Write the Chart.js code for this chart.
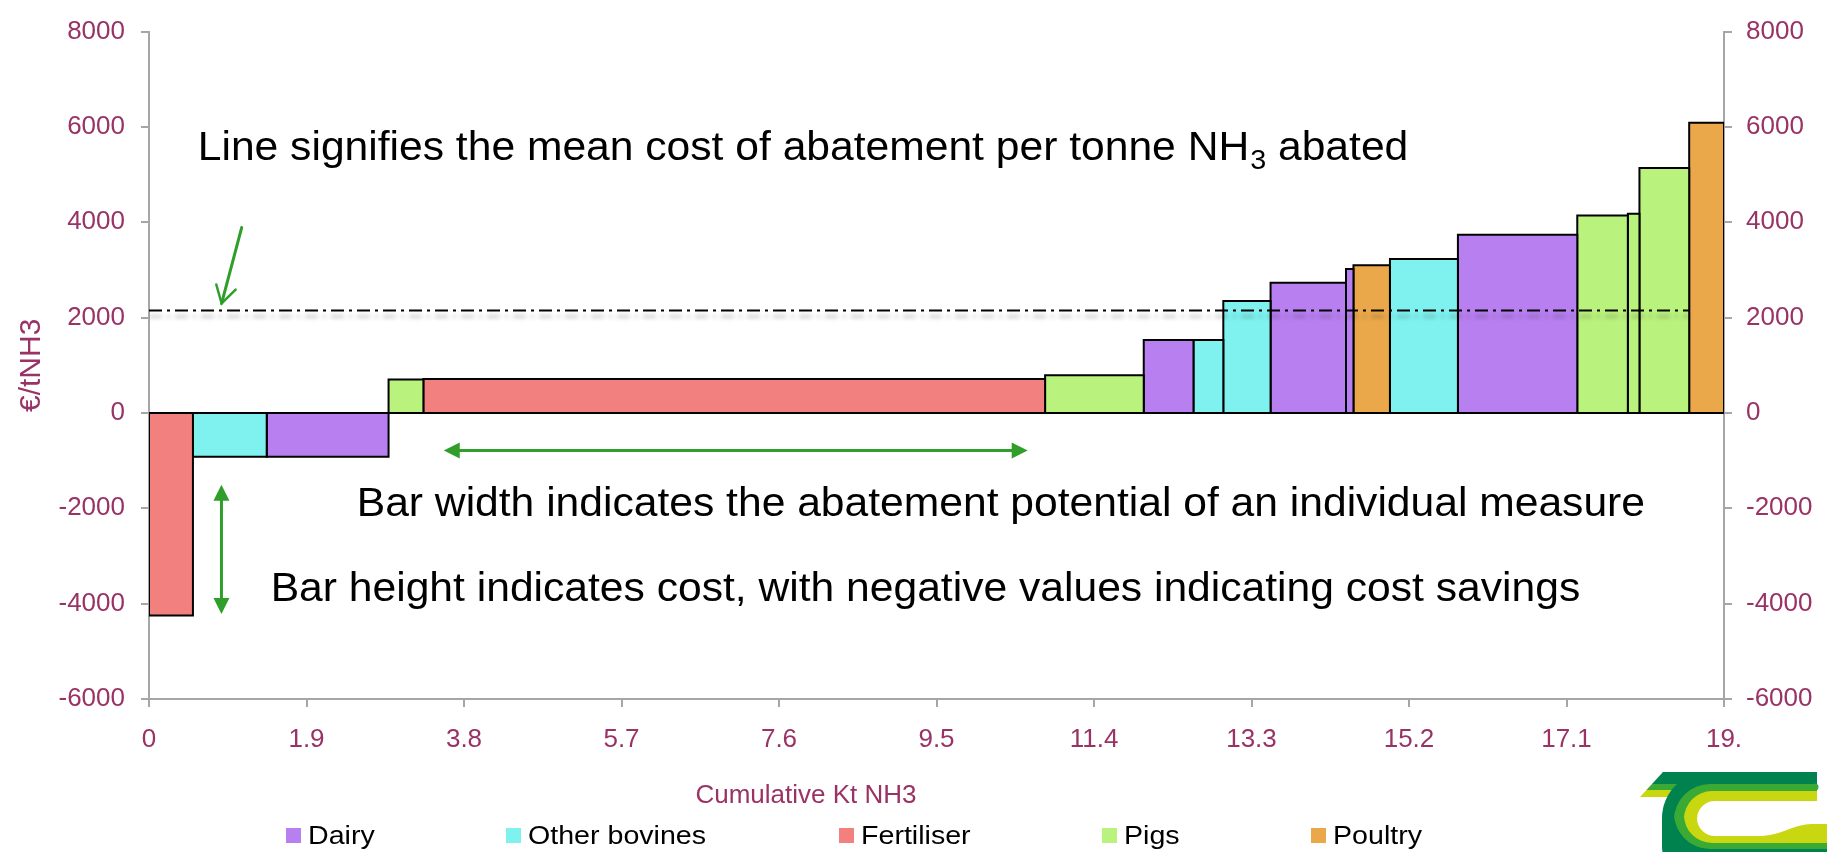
<!DOCTYPE html>
<html>
<head>
<meta charset="utf-8">
<title>Ammonia abatement cost curve</title>
<script src="https://cdn.jsdelivr.net/npm/chart.js@4/dist/chart.umd.min.js"></script>
<style>
  html, body { margin: 0; padding: 0; background: #ffffff; }
  #wrap { width: 1827px; height: 852px; position: relative; }
</style>
</head>
<body>
<div id="wrap"><canvas id="macc" width="1827" height="852"></canvas></div>
<script>
// Sector groups and their fill colours
const categories = ['Dairy', 'Other bovines', 'Fertiliser', 'Pigs', 'Poultry'];
const categoryColors = ['#B87FF0', '#7FF2F0', '#F2807E', '#BAF27E', '#EBA84A'];

// Abatement measures, ordered by cost
const measureCategory = ['Fertiliser', 'Other bovines', 'Dairy', 'Pigs', 'Fertiliser', 'Pigs',
  'Dairy', 'Other bovines', 'Other bovines', 'Dairy', 'Dairy', 'Poultry',
  'Other bovines', 'Dairy', 'Pigs', 'Pigs', 'Pigs', 'Poultry'];
// Abatement potential of each measure (Kt NH3) = bar width
const measurePotential = [0.53, 0.89, 1.47, 0.42, 7.50, 1.19,
  0.60, 0.36, 0.57, 0.91, 0.09, 0.44,
  0.82, 1.44, 0.61, 0.14, 0.60, 0.42];
// Cost of each measure (€/t NH3) = bar height
const measureCost = [-4250, -920, -920, 700, 710, 790,
  1530, 1530, 2350, 2730, 3020, 3100,
  3230, 3740, 4140, 4180, 5140, 6090];

// Mean cost of abatement per tonne NH3
const meanCost = 2150;
const meanSpan = [0, 18.58];

// Axis ticks
const xTickValues = [0, 1.9, 3.8, 5.7, 7.6, 9.5, 11.4, 13.3, 15.2, 17.1, 19];
const xTickLabels = ['0', '1.9', '3.8', '5.7', '7.6', '9.5', '11.4', '13.3', '15.2', '17.1', '19.'];
const yTickValues = [-6000, -4000, -2000, 0, 2000, 4000, 6000, 8000];

const FONT = '"Liberation Sans", Arial, sans-serif';
const PLUM = '#993366';
const AXIS = '#A6A6A6';
const GREEN = '#2F9E2A';

// Each measure becomes a rectangle from its cumulative start to start + potential
const datasets = [];
let cumulative = 0;
measureCost.forEach((cost, i) => {
  const x0 = cumulative;
  const x1 = cumulative + measurePotential[i];
  const color = categoryColors[categories.indexOf(measureCategory[i])];
  datasets.push({
    label: measureCategory[i],
    data: [{x: x0, y: 0}, {x: x0, y: cost}, {x: x1, y: cost}, {x: x1, y: 0}],
    backgroundColor: color,
    borderColor: '#000000',
    borderWidth: 2,
    borderJoinStyle: 'miter',
    fill: 'origin',
    pointRadius: 0,
    tension: 0,
    order: 2
  });
  cumulative = x1;
});
const totalPotential = cumulative;

// Common base edge of all bars
datasets.push({
  label: 'Base',
  data: [{x: 0, y: 0}, {x: totalPotential, y: 0}],
  borderColor: '#000000',
  borderWidth: 2,
  fill: false,
  pointRadius: 0,
  order: 1
});

datasets.push({
  label: 'Mean cost',
  data: meanSpan.map(x => ({x: x, y: meanCost})),
  borderColor: '#000000',
  borderWidth: 2,
  borderDash: [13, 5, 3, 5],
  fill: false,
  pointRadius: 0,
  order: 0,
  meanLine: true
});

function yTicks(scale) { scale.ticks = yTickValues.map(v => ({value: v})); }

// Soft drop shadow under the mean-cost line
const shadowPlugin = {
  id: 'meanShadow',
  beforeDatasetDraw(chart, args) {
    if (!args.meta._dataset.meanLine) return;
    const ctx = chart.ctx;
    ctx.save();
    ctx.shadowColor = 'rgba(0,0,0,0.3)';
    ctx.shadowBlur = 4;
    ctx.shadowOffsetX = 0;
    ctx.shadowOffsetY = 6;
  },
  afterDatasetDraw(chart, args) {
    if (!args.meta._dataset.meanLine) return;
    chart.ctx.restore();
  }
};

function arrowHead(ctx, fx, fy, tx, ty, len, half, filled) {
  const a = Math.atan2(ty - fy, tx - fx);
  const bx = tx - len * Math.cos(a), by = ty - len * Math.sin(a);
  const px = -Math.sin(a) * half, py = Math.cos(a) * half;
  ctx.beginPath();
  ctx.moveTo(bx + px, by + py);
  ctx.lineTo(tx, ty);
  ctx.lineTo(bx - px, by - py);
  if (filled) { ctx.closePath(); ctx.fill(); } else { ctx.stroke(); }
}

function roundRect(ctx, x, y, w, h, r) {
  ctx.beginPath();
  ctx.moveTo(x + r, y);
  ctx.lineTo(x + w, y);
  ctx.lineTo(x + w, y + h);
  ctx.lineTo(x + r, y + h);
  ctx.arcTo(x, y + h, x, y + h - r, r);
  ctx.lineTo(x, y + r);
  ctx.arcTo(x, y, x + r, y, r);
  ctx.closePath();
  ctx.fill();
}

function drawLogo(ctx) {
  const dark = '#00824F', mid = '#3AAA35', lime = '#C8D70F';
  ctx.save();
  // slanted stripes on the left
  ctx.beginPath();
  ctx.moveTo(1663, 772); ctx.lineTo(1710, 772); ctx.lineTo(1710, 797); ctx.lineTo(1640, 797);
  ctx.closePath();
  ctx.clip();
  ctx.fillStyle = dark; ctx.fillRect(1630, 772, 90, 12);
  ctx.fillStyle = mid; ctx.fillRect(1630, 784, 90, 6);
  ctx.fillStyle = lime; ctx.fillRect(1630, 790, 90, 7);
  ctx.restore();
  ctx.save();
  ctx.fillStyle = dark; roundRect(ctx, 1662, 772, 240, 120, 46);
  ctx.fillStyle = mid; roundRect(ctx, 1674, 784, 230, 65, 36);
  ctx.fillStyle = lime; roundRect(ctx, 1684, 791, 220, 52, 28);
  ctx.fillStyle = '#ffffff'; roundRect(ctx, 1697, 801, 210, 35, 18);
  ctx.fillStyle = '#ffffff'; ctx.fillRect(1817, 768, 12, 33);
  ctx.fillStyle = mid;
  ctx.beginPath(); ctx.arc(1815, 787, 3.5, -Math.PI / 2, Math.PI / 2); ctx.fill();
  ctx.fillStyle = lime;
  ctx.beginPath();
  ctx.moveTo(1758, 836);
  ctx.bezierCurveTo(1782, 836, 1790, 825, 1812, 824);
  ctx.lineTo(1827, 824); ctx.lineTo(1827, 836);
  ctx.closePath(); ctx.fill();
  ctx.restore();
}

// Text drawn slightly widened, as in the original slide
function wideText(ctx, text, x, y, stretch) {
  ctx.save();
  ctx.translate(x, y);
  ctx.scale(stretch, 1);
  ctx.fillText(text, 0, 0);
  const w = ctx.measureText(text).width * stretch;
  ctx.restore();
  return w;
}

// Notes, arrows, axis title, legend and logo
const notesPlugin = {
  id: 'notes',
  afterDraw(chart) {
    const ctx = chart.ctx;
    const xs = chart.scales.x, ys = chart.scales.y;
    const X = v => xs.getPixelForValue(v), Y = v => ys.getPixelForValue(v);
    const S = 1.065;
    ctx.save();

    // explanatory notes
    ctx.fillStyle = '#000000';
    ctx.textAlign = 'left';
    ctx.textBaseline = 'alphabetic';
    ctx.font = '40px ' + FONT;
    let tx = X(0.588);
    const ty = Y(5297);
    tx += wideText(ctx, 'Line signifies the mean cost of abatement per tonne NH', tx, ty, S);
    ctx.font = '27px ' + FONT;
    tx += wideText(ctx, '3', tx + 1, ty + 9, S) + 1;
    ctx.font = '40px ' + FONT;
    wideText(ctx, ' abated', tx, ty, S);
    wideText(ctx, 'Bar width indicates the abatement potential of an individual measure', X(2.506), Y(-2152), S);
    wideText(ctx, 'Bar height indicates cost, with negative values indicating cost savings', X(1.468), Y(-3952), S);

    // green arrows
    ctx.strokeStyle = GREEN;
    ctx.fillStyle = GREEN;
    ctx.lineWidth = 3;
    ctx.lineCap = 'round';
    // pointer to the mean line
    const ax0 = X(1.118), ay0 = Y(3890), ax1 = X(0.876), ay1 = Y(2297);
    ctx.beginPath(); ctx.moveTo(ax0, ay0); ctx.lineTo(ax1, ay1); ctx.stroke();
    ctx.lineWidth = 2.5;
    arrowHead(ctx, ax0, ay0, ax1, ay1, 17, 10, false);
    // horizontal double arrow (bar width)
    ctx.lineWidth = 3;
    ctx.lineCap = 'butt';
    const hx0 = X(3.556), hx1 = X(10.60), hy = Y(-786);
    ctx.beginPath(); ctx.moveTo(hx0 + 10, hy); ctx.lineTo(hx1 - 10, hy); ctx.stroke();
    arrowHead(ctx, hx1, hy, hx0, hy, 16, 8, true);
    arrowHead(ctx, hx0, hy, hx1, hy, 16, 8, true);
    // vertical double arrow (bar height)
    const vx = X(0.874), vy0 = Y(-1504), vy1 = Y(-4215);
    ctx.beginPath(); ctx.moveTo(vx, vy0 + 10); ctx.lineTo(vx, vy1 - 10); ctx.stroke();
    arrowHead(ctx, vx, vy1, vx, vy0, 16, 8, true);
    arrowHead(ctx, vx, vy0, vx, vy1, 16, 8, true);

    // x-axis title
    ctx.fillStyle = PLUM;
    ctx.font = '26px ' + FONT;
    ctx.textAlign = 'center';
    ctx.textBaseline = 'middle';
    ctx.fillText('Cumulative Kt NH3', 806, 796);

    // legend
    const legendX = [286, 506, 839, 1102, 1311];
    ctx.textAlign = 'left';
    ctx.font = '26px ' + FONT;
    categories.forEach((name, i) => {
      ctx.fillStyle = categoryColors[i];
      ctx.fillRect(legendX[i], 828, 15, 15);
      ctx.fillStyle = '#000000';
      wideText(ctx, name, legendX[i] + 22, 837, 1.1);
    });

    drawLogo(ctx);
    ctx.restore();
  }
};

new Chart(document.getElementById('macc'), {
  type: 'line',
  data: {datasets: datasets},
  options: {
    responsive: false,
    animation: false,
    events: [],
    layout: {padding: {top: 22, left: 0, right: 0, bottom: 0}},
    plugins: {legend: {display: false}, tooltip: {enabled: false}},
    scales: {
      x: {
        type: 'linear',
        min: 0, max: 19,
        afterBuildTicks: s => { s.ticks = xTickValues.map(v => ({value: v})); },
        afterFit: s => { s.height = 153; },
        ticks: {
          callback: (v, i) => xTickLabels[i],
          color: PLUM,
          font: {family: FONT, size: 26},
          padding: 17,
          maxRotation: 0,
          autoSkip: false
        },
        grid: {drawOnChartArea: false, tickLength: 8, color: AXIS, lineWidth: 2},
        border: {color: AXIS, width: 2}
      },
      y: {
        position: 'left',
        min: -6000, max: 8000,
        afterBuildTicks: yTicks,
        afterFit: s => { s.width = 149; },
        ticks: {color: PLUM, font: {family: FONT, size: 26}, padding: 16, callback: v => String(v)},
        grid: {
          color: c => (c.tick && c.tick.value === 0) ? AXIS : 'rgba(0,0,0,0)',
          tickColor: AXIS,
          tickLength: 8,
          lineWidth: 2
        },
        border: {color: AXIS, width: 2},
        title: {
          display: true,
          text: '€/tNH3',
          color: PLUM,
          font: {family: FONT, size: 30},
          padding: {top: 14, bottom: 0}
        }
      },
      y2: {
        position: 'right',
        min: -6000, max: 8000,
        afterBuildTicks: yTicks,
        afterFit: s => { s.width = 103; },
        ticks: {color: PLUM, font: {family: FONT, size: 26}, padding: 14, callback: v => String(v)},
        grid: {drawOnChartArea: false, tickColor: AXIS, color: AXIS, tickLength: 8, lineWidth: 2},
        border: {color: AXIS, width: 2}
      }
    }
  },
  plugins: [shadowPlugin, notesPlugin]
});
</script>
</body>
</html>
